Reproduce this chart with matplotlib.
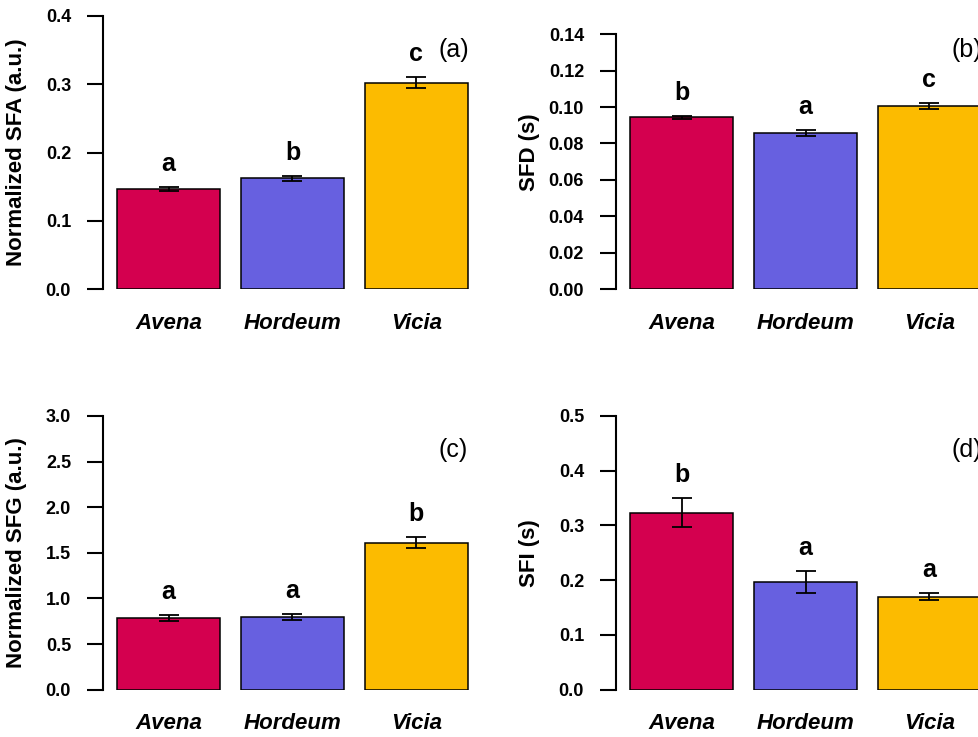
import matplotlib

matplotlib.use("Agg")

import matplotlib.pyplot as plt

plt.rcParams["font.family"] = ["Liberation Sans", "DejaVu Sans"]

species = ["Avena", "Hordeum", "Vicia"]
bar_colors = ["#D4004F", "#6760E0", "#FCBB00"]

sfa_mean = [0.146, 0.162, 0.302]
sfa_se = [0.003, 0.004, 0.008]
sfa_letters = ["a", "b", "c"]

sfd_mean = [0.0943, 0.0857, 0.1005]
sfd_se = [0.0010, 0.0015, 0.0015]
sfd_letters = ["b", "a", "c"]

sfg_mean = [0.785, 0.795, 1.612]
sfg_se = [0.030, 0.035, 0.062]
sfg_letters = ["a", "a", "b"]

sfi_mean = [0.323, 0.197, 0.170]
sfi_se = [0.0265, 0.0200, 0.0067]
sfi_letters = ["b", "a", "a"]

W, H = 979, 737
fig = plt.figure(figsize=(W / 100, H / 100), dpi=100)

# R-style barplot: width 1, space 0.2, 4% xlim padding
centers = [0.7, 1.9, 3.1]
xlim = (0.064, 3.736)


def panel(rect, mean, se, letters, ylim, ticks, ticklabels, ylabel, tag):
    left, top, right, bottom = rect
    ax = fig.add_axes([left / W, (H - bottom) / H, (right - left) / W, (bottom - top) / H])
    ax.bar(centers, mean, width=1.0, color=bar_colors, edgecolor="black", linewidth=1.1, zorder=2)
    ax.errorbar(centers, mean, yerr=se, fmt="none", ecolor="black", elinewidth=1.3,
                capsize=7.5, capthick=1.3, zorder=3)
    for x, m, s, lab in zip(centers, mean, se, letters):
        ax.annotate(lab, (x, m + s), xytext=(0, 11.5), textcoords="offset points",
                    ha="center", va="baseline", fontsize=18, fontweight="bold", zorder=4)
    ax.set_xlim(*xlim)
    ax.set_ylim(*ylim)
    for side in ("top", "right", "bottom"):
        ax.spines[side].set_visible(False)
    ax.spines["left"].set_linewidth(1.5)
    ax.spines["left"].set_bounds(ticks[0], ticks[-1])
    ax.set_yticks(ticks)
    ax.set_yticklabels(ticklabels, fontsize=13, fontweight="bold")
    ax.tick_params(axis="y", length=11.5, width=1.5, pad=11.5)
    ax.set_xticks(centers)
    ax.set_xticklabels(species, fontsize=16, fontweight="bold", style="italic")
    ax.tick_params(axis="x", length=0, pad=17)
    ax.set_ylabel(ylabel, fontsize=16, fontweight="bold", va="center")
    ax.yaxis.set_label_coords(-86 / (right - left), 0.5)
    ax.text(0.925, 0.875, tag, transform=ax.transAxes, ha="center", va="center",
            fontsize=18, clip_on=False)
    return ax


panel((103, 16, 482, 289), sfa_mean, sfa_se, sfa_letters, (0, 0.4),
      [0, 0.1, 0.2, 0.3, 0.4], ["0.0", "0.1", "0.2", "0.3", "0.4"],
      "Normalized SFA (a.u.)", "(a)")
panel((616, 16, 995, 289), sfd_mean, sfd_se, sfd_letters, (0, 0.15),
      [0, 0.02, 0.04, 0.06, 0.08, 0.10, 0.12, 0.14],
      ["0.00", "0.02", "0.04", "0.06", "0.08", "0.10", "0.12", "0.14"],
      "SFD (s)", "(b)")
panel((103, 416, 482, 689.7), sfg_mean, sfg_se, sfg_letters, (0, 3.0),
      [0, 0.5, 1.0, 1.5, 2.0, 2.5, 3.0], ["0.0", "0.5", "1.0", "1.5", "2.0", "2.5", "3.0"],
      "Normalized SFG (a.u.)", "(c)")
panel((616, 416, 995, 689.7), sfi_mean, sfi_se, sfi_letters, (0, 0.5),
      [0, 0.1, 0.2, 0.3, 0.4, 0.5], ["0.0", "0.1", "0.2", "0.3", "0.4", "0.5"],
      "SFI (s)", "(d)")

fig.savefig("out.png", dpi=100)
